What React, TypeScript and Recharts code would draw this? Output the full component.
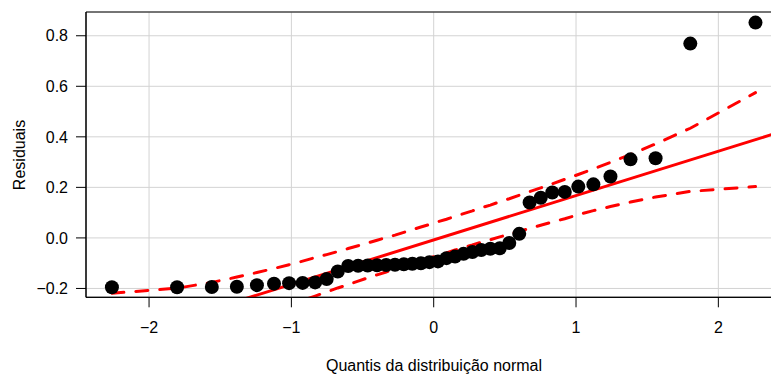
import {
  CartesianGrid,
  ComposedChart,
  Line,
  ReferenceArea,
  Scatter,
  XAxis,
  YAxis,
} from "recharts";

// Normal quantiles for 42 ordered residuals (x axis of the QQ plot).
const quantiles = [
  -2.261, -1.803, -1.559, -1.383, -1.242, -1.122, -1.016, -0.921, -0.833, -0.752,
  -0.674, -0.601, -0.531, -0.464, -0.398, -0.334, -0.272, -0.21, -0.15, -0.09,
  -0.03, 0.03, 0.09, 0.15, 0.21, 0.272, 0.334, 0.398, 0.464, 0.531,
  0.601, 0.674, 0.752, 0.833, 0.921, 1.016, 1.122, 1.242, 1.383, 1.559,
  1.803, 2.261,
];

// Sorted residuals.
const residuals = [
  -0.195, -0.195, -0.194, -0.193, -0.187, -0.181, -0.179, -0.178, -0.176, -0.163,
  -0.133, -0.111, -0.11, -0.109, -0.108, -0.107, -0.106, -0.104, -0.102, -0.1,
  -0.096, -0.093, -0.08, -0.074, -0.063, -0.056, -0.048, -0.043, -0.041, -0.02,
  0.016, 0.14, 0.159, 0.18, 0.182, 0.203, 0.212, 0.243, 0.311, 0.315,
  0.769, 0.852,
];

// Confidence envelope (dashed), one value per quantile.
const upperEnvelope = [
  -0.219, -0.199, -0.176, -0.155, -0.137, -0.121, -0.106, -0.092, -0.078, -0.066,
  -0.054, -0.042, -0.031, -0.02, -0.009, 0.001, 0.011, 0.022, 0.033, 0.043,
  0.053, 0.064, 0.074, 0.085, 0.096, 0.107, 0.119, 0.13, 0.143, 0.155,
  0.169, 0.183, 0.198, 0.214, 0.232, 0.251, 0.273, 0.299, 0.33, 0.372,
  0.434, 0.575,
];
const lowerEnvelope = [
  -0.591, -0.45, -0.388, -0.347, -0.315, -0.289, -0.267, -0.248, -0.23, -0.214,
  -0.198, -0.185, -0.171, -0.158, -0.146, -0.135, -0.123, -0.112, -0.101, -0.09,
  -0.08, -0.069, -0.059, -0.048, -0.038, -0.028, -0.017, -0.007, 0.004, 0.015,
  0.026, 0.038, 0.05, 0.063, 0.076, 0.092, 0.108, 0.124, 0.142, 0.162,
  0.184, 0.203,
];

// Reference line end points (spans the whole plot region).
const fitX = [-2.443, 2.443];
const fitY = [-0.437, 0.421];

const xTicks = [-2, -1, 0, 1, 2];
const yTicks = [-0.2, 0, 0.2, 0.4, 0.6, 0.8];
const X_DOMAIN: [number, number] = [-2.443, 2.443];
const Y_DOMAIN: [number, number] = [-0.235, 0.894];

const FONT = "'Liberation Sans', Arial, Helvetica, sans-serif";
const RED = "#FF0000";

const points = quantiles.map((x, i) => ({ x, y: residuals[i] }));
const upper = quantiles.map((x, i) => ({ x, y: upperEnvelope[i] }));
const lower = quantiles.map((x, i) => ({ x, y: lowerEnvelope[i] }));
const fit = fitX.map((x, i) => ({ x, y: fitY[i] }));

const minus = (s: string) => s.replace("-", "\u2212");

export default function App() {
  const tickStyle = { fill: "#000", fontSize: 16, fontFamily: FONT };
  return (
    <div
      style={{
        position: "fixed",
        top: 0,
        left: 0,
        width: 771,
        height: 374,
        overflow: "hidden",
        background: "#fff",
      }}
    >
      <ComposedChart
        width={800}
        height={374}
        margin={{ top: 12, right: 18.6, left: 0, bottom: 0 }}
      >
        <CartesianGrid stroke="#D3D3D3" strokeWidth={1} />
        <XAxis
          type="number"
          dataKey="x"
          domain={X_DOMAIN}
          ticks={xTicks}
          allowDataOverflow
          height={76.7}
          tickSize={10}
          tickMargin={14}
          tick={tickStyle}
          axisLine={{ stroke: "#000" }}
          tickLine={{ stroke: "#000" }}
          tickFormatter={(v: number) => minus(String(v))}
          label={() => (
            <text
              x={434}
              y={370.5}
              textAnchor="middle"
              fontSize={16}
              fontFamily={FONT}
              fill="#000"
            >
              Quantis da distribuição normal
            </text>
          )}
        />
        <YAxis
          type="number"
          dataKey="y"
          domain={Y_DOMAIN}
          ticks={yTicks}
          allowDataOverflow
          width={86}
          tickSize={10}
          tickMargin={8}
          tick={tickStyle}
          axisLine={{ stroke: "#000" }}
          tickLine={{ stroke: "#000" }}
          tickFormatter={(v: number) => minus(v.toFixed(1))}
          label={() => (
            <text
              x={25}
              y={155}
              transform="rotate(-90 25 155)"
              textAnchor="middle"
              fontSize={16}
              fontFamily={FONT}
              fill="#000"
            >
              Residuais
            </text>
          )}
        />
        <Scatter
          data={points}
          isAnimationActive={false}
          shape={(p: any) => <circle cx={p.cx} cy={p.cy} r={7} fill="#000" />}
        />
        <Line
          data={fit}
          dataKey="y"
          type="linear"
          stroke={RED}
          strokeWidth={3}
          dot={false}
          activeDot={false}
          isAnimationActive={false}
        />
        <Line
          data={upper}
          dataKey="y"
          type="linear"
          stroke={RED}
          strokeWidth={3}
          strokeDasharray="12 12"
          strokeLinecap="round"
          dot={false}
          activeDot={false}
          isAnimationActive={false}
        />
        <Line
          data={lower}
          dataKey="y"
          type="linear"
          stroke={RED}
          strokeWidth={3}
          strokeDasharray="12 12"
          strokeLinecap="round"
          dot={false}
          activeDot={false}
          isAnimationActive={false}
        />
        <ReferenceArea
          x1={X_DOMAIN[0]}
          x2={X_DOMAIN[1]}
          y1={Y_DOMAIN[0]}
          y2={Y_DOMAIN[1]}
          fill="none"
          stroke="#000"
          strokeWidth={1}
          ifOverflow="visible"
        />
      </ComposedChart>
    </div>
  );
}
